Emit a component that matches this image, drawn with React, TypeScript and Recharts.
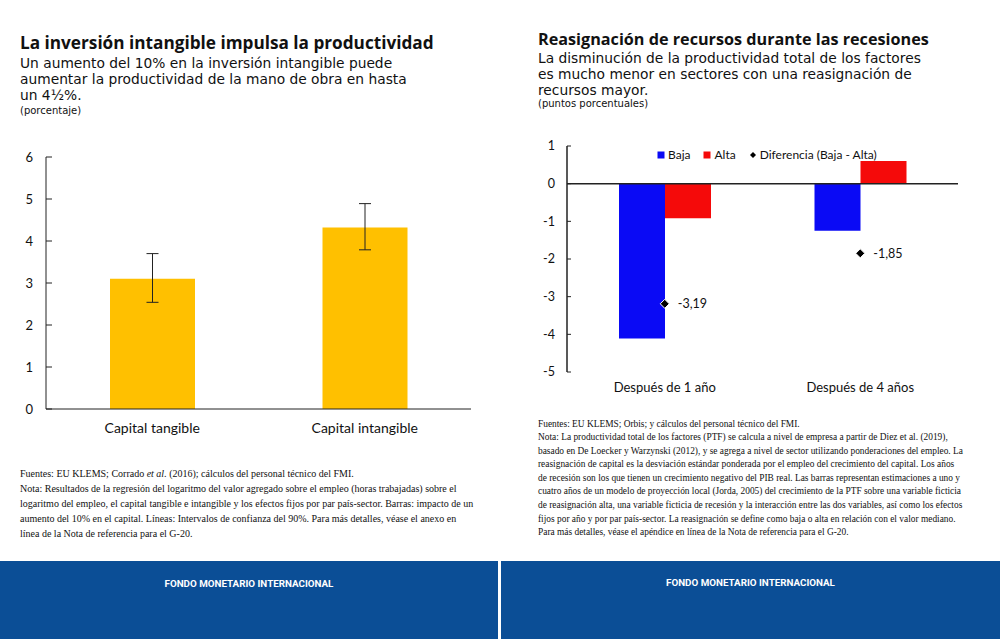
import { Bar, BarChart, ComposedChart, ErrorBar, Legend, ReferenceLine, Scatter, XAxis, YAxis } from "recharts"

// Panel izquierdo: inversión intangible
const capitalCategories = ["Capital tangible", "Capital intangible"]
const capitalImpact = [3.1, 4.32]
const capitalErrLow = [0.56, 0.53]
const capitalErrHigh = [0.6, 0.57]
const capitalTicks = [0, 1, 2, 3, 4, 5, 6]

// Panel derecho: reasignación de recursos
const recessionCategories = ["Después de 1 año", "Después de 4 años"]
const bajaValues = [-4.11, -1.25]
const altaValues = [-0.92, 0.6]
const diffValues = [-3.19, -1.85]
const recessionTicks = [-5, -4, -3, -2, -1, 0, 1]
const legendOrder = ["Baja", "Alta", "Diferencia (Baja - Alta)"]

const leftTitle = "La inversión intangible impulsa la productividad"
const leftSubtitle = [
    "Un aumento del 10% en la inversión intangible puede",
    "aumentar la productividad de la mano de obra en hasta",
    "un 4½%.",
]
const leftUnit = "(porcentaje)"

const rightTitle = "Reasignación de recursos durante las recesiones"
const rightSubtitle = [
    "La disminución de la productividad total de los factores",
    "es mucho menor en sectores con una reasignación de",
    "recursos mayor.",
]
const rightUnit = "(puntos porcentuales)"

const rightNotes = [
    "Fuentes: EU KLEMS; Orbis; y cálculos del personal técnico del FMI.",
    "Nota: La productividad total de los factores (PTF) se calcula a nivel de empresa a partir de Diez et al. (2019),",
    "basado en De Loecker y Warzynski (2012), y se agrega a nivel de sector utilizando ponderaciones del empleo. La",
    "reasignación de capital es la desviación estándar ponderada por el empleo del crecimiento del capital. Los años",
    "de recesión son los que tienen un crecimiento negativo del PIB real. Las barras representan estimaciones a uno y",
    "cuatro años de un modelo de proyección local (Jorda, 2005) del crecimiento de la PTF sobre una variable ficticia",
    "de reasignación alta, una variable ficticia de recesión y la interacción entre las dos variables, así como los efectos",
    "fijos por año y por par país-sector. La reasignación se define como baja o alta en relación con el valor mediano.",
    "Para más detalles, véase el apéndice en línea de la Nota de referencia para el G-20.",
]

const footerLabel = "FONDO MONETARIO INTERNACIONAL"

const capitalData = capitalCategories.map((name, i) => ({
    name,
    value: capitalImpact[i],
    err: [capitalErrLow[i], capitalErrHigh[i]],
}))

const recessionData = recessionCategories.map((name, i) => ({
    name,
    baja: bajaValues[i],
    alta: altaValues[i],
    diff: diffValues[i],
}))

const headFont = "'Open Sans', Lato, sans-serif"
const subFont = "'DejaVu Sans', 'Open Sans', sans-serif"
const axisFont = "Lato, 'Open Sans', sans-serif"
const noteFont = "'Liberation Serif', 'DejaVu Serif', serif"

const titleStyle: React.CSSProperties = {
    position: "absolute",
    fontFamily: headFont,
    fontWeight: 700,
    lineHeight: "20px",
    color: "#111",
    whiteSpace: "nowrap",
}
const subtitleStyle: React.CSSProperties = {
    position: "absolute",
    fontFamily: subFont,
    fontSize: 13.8,
    lineHeight: "16px",
    color: "#111",
    whiteSpace: "nowrap",
}
const unitStyle: React.CSSProperties = {
    position: "absolute",
    fontFamily: subFont,
    fontSize: 10,
    lineHeight: "12px",
    color: "#111",
    whiteSpace: "nowrap",
}
const noteStyle: React.CSSProperties = {
    position: "absolute",
    fontFamily: noteFont,
    color: "#111",
    whiteSpace: "nowrap",
}
const footerText: React.CSSProperties = {
    position: "absolute",
    top: 578,
    fontFamily: "Roboto, 'Open Sans', sans-serif",
    fontWeight: 700,
    fontSize: 9.8,
    lineHeight: "12px",
    color: "#fff",
    textAlign: "center",
}

const fmtComma = (v: number) => String(v).replace(".", ",")

function DiamondPoint(props: any) {
    const { cx, cy, payload } = props
    if (cx == null || cy == null) return null
    const r = 4.5
    return (
        <g>
            <polygon
                points={`${cx},${cy - r} ${cx + r},${cy} ${cx},${cy + r} ${cx - r},${cy}`}
                fill="#000"
                stroke="#fff"
                strokeWidth={1}
            />
            <text x={cx + 13} y={cy + 4.5} fontSize={12.5} fontFamily={axisFont} fill="#111">
                {fmtComma(payload.diff)}
            </text>
        </g>
    )
}

function RecessionLegend(props: any) {
    const items = [...(props.payload || [])].sort(
        (a: any, b: any) => legendOrder.indexOf(a.value) - legendOrder.indexOf(b.value)
    )
    return (
        <div style={{ display: "flex", fontFamily: axisFont, fontSize: 12, color: "#111", whiteSpace: "nowrap" }}>
            {items.map((entry: any) => (
                <span key={entry.value} style={{ display: "inline-flex", alignItems: "center", marginRight: 13 }}>
                    <svg width={8} height={8} style={{ marginRight: 3 }}>
                        {entry.type === "diamond" ? (
                            <polygon points="4,1 7,4 4,7 1,4" fill="#000" />
                        ) : (
                            <rect x={0.5} y={0.5} width={7} height={7} fill={entry.color} />
                        )}
                    </svg>
                    {entry.value}
                </span>
            ))}
        </div>
    )
}

export default function App() {
    return (
        <div style={{ position: "absolute", left: 0, top: 0, width: 1000, height: 639, background: "#fff", overflow: "hidden" }}>
            {/* textos panel izquierdo */}
            <div style={{ ...titleStyle, fontSize: 17.2, left: 20, top: 33.3 }}>{leftTitle}</div>
            <div style={{ ...subtitleStyle, left: 20, top: 55 }}>
                {leftSubtitle.map(l => <div key={l}>{l}</div>)}
            </div>
            <div style={{ ...unitStyle, left: 20, top: 104.5 }}>{leftUnit}</div>

            {/* textos panel derecho */}
            <div style={{ ...titleStyle, fontSize: 16.2, left: 538, top: 28.6 }}>{rightTitle}</div>
            <div style={{ ...subtitleStyle, left: 538, top: 49.7 }}>
                {rightSubtitle.map(l => <div key={l}>{l}</div>)}
            </div>
            <div style={{ ...unitStyle, left: 538, top: 97.8 }}>{rightUnit}</div>

            <div style={{ position: "absolute", left: 0, top: 140 }}>
                <BarChart width={497} height={310} data={capitalData} margin={{ top: 17, right: 26, bottom: 11, left: 0 }}>
                    <XAxis
                        dataKey="name"
                        axisLine={{ stroke: "#222" }}
                        tickLine={false}
                        tickSize={0}
                        tickMargin={14}
                        height={30}
                        tick={{ fontSize: 14, fontFamily: axisFont, fill: "#111" }}
                    />
                    <YAxis
                        domain={[0, 6]}
                        ticks={capitalTicks}
                        width={46}
                        axisLine={{ stroke: "#222" }}
                        tickLine={{ stroke: "#222" }}
                        tickSize={-6}
                        tickMargin={19}
                        tick={{ fontSize: 13, fontFamily: axisFont, fill: "#111" }}
                    />
                    <Bar dataKey="value" fill="#ffc000" barSize={85} isAnimationActive={false}>
                        <ErrorBar dataKey="err" width={6} stroke="#222" strokeWidth={1} />
                    </Bar>
                </BarChart>
            </div>

            <div style={{ position: "absolute", left: 500, top: 130 }}>
                <ComposedChart width={500} height={280} data={recessionData} barGap={0} margin={{ top: 16, right: 42, bottom: 10, left: 0 }}>
                    <XAxis
                        dataKey="name"
                        axisLine={false}
                        tickLine={false}
                        tickSize={0}
                        tickMargin={11}
                        height={28}
                        tick={{ fontSize: 13, fontFamily: axisFont, fill: "#111" }}
                    />
                    <YAxis
                        domain={[-5, 1]}
                        ticks={recessionTicks}
                        width={67}
                        axisLine={{ stroke: "#222", strokeWidth: 1.5 }}
                        tickLine={{ stroke: "#222" }}
                        tickSize={-4}
                        tickMargin={16}
                        tick={{ fontSize: 12.5, fontFamily: axisFont, fill: "#111" }}
                    />
                    <Legend
                        verticalAlign="middle"
                        content={<RecessionLegend />}
                        wrapperStyle={{ top: 17, left: 157, width: "auto" }}
                    />
                    <ReferenceLine y={0} stroke="#222" strokeWidth={1.5} />
                    <Bar dataKey="baja" name="Baja" fill="#0a0af5" barSize={46} legendType="square" isAnimationActive={false} />
                    <Bar dataKey="alta" name="Alta" fill="#f50a0a" barSize={46} legendType="square" isAnimationActive={false} />
                    <Scatter dataKey="diff" name="Diferencia (Baja - Alta)" legendType="diamond" fill="#000" shape={<DiamondPoint />} isAnimationActive={false} />
                </ComposedChart>
            </div>

            {/* notas */}
            <div style={{ ...noteStyle, left: 20, top: 466, fontSize: 10, lineHeight: "15px" }}>
                <div>Fuentes: EU KLEMS; Corrado <i>et al.</i> (2016); cálculos del personal técnico del FMI.</div>
                <div>Nota: Resultados de la regresión del logaritmo del valor agregado sobre el empleo (horas trabajadas) sobre el</div>
                <div>logaritmo del empleo, el capital tangible e intangible y los efectos fijos por par país-sector. Barras: impacto de un</div>
                <div>aumento del 10% en el capital. Líneas: Intervalos de confianza del 90%. Para más detalles, véase el anexo en</div>
                <div>línea de la Nota de referencia para el G-20.</div>
            </div>
            <div style={{ ...noteStyle, left: 538, top: 417.5, fontSize: 9.4, lineHeight: "13.6px" }}>
                {rightNotes.map(l => <div key={l}>{l}</div>)}
            </div>

            {/* pie */}
            <div style={{ position: "absolute", left: 0, top: 561, width: 498, height: 78, background: "#0b4e96" }} />
            <div style={{ position: "absolute", left: 501, top: 561, width: 499, height: 78, background: "#0b4e96" }} />
            <div style={{ ...footerText, left: 0, width: 498 }}>{footerLabel}</div>
            <div style={{ ...footerText, left: 501, width: 499, top: 577 }}>{footerLabel}</div>
        </div>
    )
}
